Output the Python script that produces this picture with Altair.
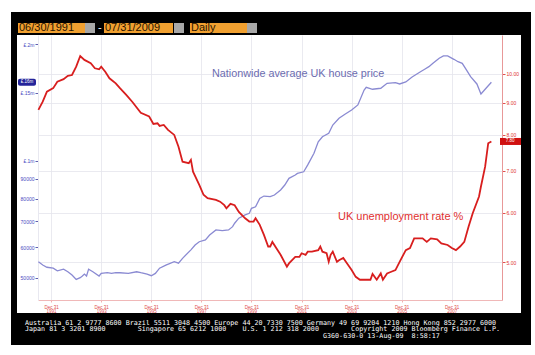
import altair as alt
import pandas as pd

# ---------------- data ----------------
hp_dates = ["1991-06-30", "1991-09-01", "1991-11-01", "1992-02-01", "1992-04-01", "1992-07-01",
            "1992-09-01", "1992-11-01", "1993-01-01", "1993-03-01", "1993-04-01", "1993-05-01",
            "1993-06-01", "1993-07-01", "1993-09-01", "1993-12-01", "1994-01-01", "1994-04-01",
            "1994-06-01", "1994-08-01", "1994-10-01", "1995-02-01", "1995-06-01", "1995-08-01",
            "1995-11-01", "1996-01-01", "1996-03-01", "1996-05-01", "1996-08-01", "1996-12-01",
            "1997-02-01", "1997-04-01", "1997-08-01", "1997-10-01", "1997-12-01", "1998-03-01",
            "1998-05-01", "1998-08-01", "1998-11-01", "1999-02-01", "1999-04-01", "1999-05-01",
            "1999-07-01", "1999-10-01", "1999-12-01", "2000-01-01", "2000-03-01", "2000-05-01",
            "2000-07-01", "2000-10-01", "2000-12-01", "2001-03-01", "2001-05-01", "2001-07-01",
            "2001-10-01", "2001-11-01", "2002-02-01", "2002-04-01", "2002-07-01", "2002-09-01",
            "2002-11-01", "2003-02-01", "2003-04-01", "2003-07-01", "2003-10-01", "2004-01-01",
            "2004-04-01", "2004-07-01", "2004-08-01", "2004-11-01", "2005-03-01", "2005-06-01",
            "2005-10-01", "2005-12-01", "2006-03-01", "2006-06-01", "2006-10-01", "2006-12-01",
            "2007-02-01", "2007-04-01", "2007-07-01", "2007-09-01", "2007-11-01", "2008-02-01",
            "2008-04-01", "2008-06-01", "2008-08-01", "2008-10-01", "2009-01-01", "2009-03-01",
            "2009-05-01", "2009-07-31"]
hp_values = [55000, 53900, 53200, 52900, 52100, 52600,
             51800, 50800, 49500, 50000, 50500, 51100,
             50500, 52600, 51800, 50500, 51300, 51500,
             51300, 51500, 51500, 51300, 51800, 51500,
             51100, 50600, 51300, 52900, 53900, 55000,
             54500, 56100, 59000, 60700, 61900, 62600,
             64400, 66400, 66100, 66400, 67700, 69100,
             71200, 72600, 73300, 75500, 76200, 80100,
             81200, 80900, 81700, 84200, 86700, 90200,
             92000, 92900, 93800, 97700, 104700, 112100,
             115500, 117900, 123800, 128900, 132200, 135400,
             139500, 152400, 154900, 153100, 154000, 158600,
             159200, 158000, 159900, 164700, 169900, 172400,
             175100, 178600, 184000, 186600, 186600, 182900,
             180300, 178600, 171700, 165000, 158000, 148900,
             153100, 159600]

ue_dates = ["1991-06-30", "1991-09-01", "1991-11-01", "1992-02-01", "1992-04-01", "1992-07-01",
            "1992-09-01", "1992-11-01", "1993-01-01", "1993-03-01", "1993-05-01", "1993-08-01",
            "1993-10-01", "1993-12-01", "1994-01-01", "1994-03-01", "1994-05-01", "1994-08-01",
            "1994-10-01", "1995-01-01", "1995-04-01", "1995-08-01", "1995-12-01", "1996-02-01",
            "1996-04-01", "1996-05-01", "1996-07-01", "1996-09-01", "1996-12-01", "1997-02-01",
            "1997-04-01", "1997-07-01", "1997-08-01", "1997-09-01", "1997-12-01", "1998-02-01",
            "1998-04-01", "1998-08-01", "1998-10-01", "1998-12-01", "1999-01-01", "1999-03-01",
            "1999-05-01", "1999-07-01", "1999-10-01", "1999-12-01", "2000-02-01", "2000-03-01",
            "2000-05-01", "2000-07-01", "2000-09-01", "2000-10-01", "2000-11-01", "2001-01-01",
            "2001-03-01", "2001-06-01", "2001-07-01", "2001-10-01", "2001-12-01", "2002-01-01",
            "2002-03-01", "2002-04-01", "2002-06-01", "2002-09-01", "2002-10-01", "2002-11-01",
            "2003-01-01", "2003-02-01", "2003-03-01", "2003-04-01", "2003-06-01", "2003-07-01",
            "2003-09-01", "2003-11-01", "2004-01-01", "2004-03-01", "2004-05-01", "2004-10-01",
            "2004-11-01", "2005-01-01", "2005-03-01", "2005-04-01", "2005-06-01", "2005-08-01",
            "2005-10-01", "2005-12-01", "2006-03-01", "2006-05-01", "2006-07-01", "2006-11-01",
            "2007-01-01", "2007-03-01", "2007-06-01", "2007-08-01", "2007-11-01", "2008-01-01",
            "2008-03-01", "2008-05-01", "2008-07-01", "2008-09-01", "2008-11-01", "2009-02-01",
            "2009-03-01", "2009-05-01", "2009-06-15", "2009-07-31"]
ue_values = [8.76, 9.03, 9.37, 9.49, 9.72, 9.81,
             9.93, 9.96, 10.27, 10.68, 10.53, 10.40,
             10.21, 10.17, 10.27, 10.08, 9.84, 9.66,
             9.49, 9.26, 9.02, 8.67, 8.55, 8.32,
             8.34, 8.26, 8.29, 8.14, 7.99, 7.65,
             7.24, 7.20, 7.29, 6.98, 6.65, 6.41,
             6.33, 6.29, 6.25, 6.17, 6.10, 6.20,
             6.17, 6.02, 5.88, 5.81, 5.81, 5.88,
             5.74, 5.53, 5.30, 5.30, 5.39, 5.26,
             5.14, 4.92, 4.98, 5.10, 5.10, 5.17,
             5.14, 5.20, 5.20, 5.23, 5.30, 5.20,
             5.17, 5.01, 5.14, 5.20, 5.01, 5.04,
             5.08, 4.97, 4.86, 4.74, 4.69, 4.69,
             4.79, 4.69, 4.80, 4.69, 4.80, 4.83,
             4.86, 5.01, 5.23, 5.27, 5.46, 5.46,
             5.39, 5.46, 5.44, 5.36, 5.33, 5.27,
             5.23, 5.30, 5.39, 5.70, 5.99, 6.37,
             6.61, 7.11, 7.75, 7.80]

x_tick_years = [1991, 1993, 1995, 1997, 1999, 2001, 2003, 2005, 2007]
left_ticks = [50000, 60000, 70000, 80000, 90000, 100000, 150000, 200000]
right_ticks = [5, 6, 7, 8, 9, 10]

header_start = "06/30/1991"
header_end = "07/31/2009"
header_freq = "Daily"
label_house = "Nationwide average UK house price"
label_unemp = "UK unemployment rate %"
footer_lines = [
    "Australia 61 2 9777 8600 Brazil 5511 3048 4500 Europe 44 20 7330 7500 Germany 49 69 9204 1210 Hong Kong 852 2977 6000",
    "Japan 81 3 3201 8900        Singapore 65 6212 1000    U.S. 1 212 318 2000        Copyright 2009 Bloomberg Finance L.P.",
]
footer_stamp = "G360-630-0 13-Aug-09  8:58:17"

# ---------------- tables ----------------
hp = pd.DataFrame({"date": hp_dates, "price": hp_values})
ue = pd.DataFrame({"date": ue_dates, "rate": ue_values})
hp_last = pd.DataFrame({"date": [hp_dates[-1]], "price": [hp_values[-1]],
                        "label": ["£." + str(round(hp_values[-1] / 10000)) + "m"]})
ue_last = pd.DataFrame({"date": [ue_dates[-1]], "rate": [ue_values[-1]],
                        "label": [f"{ue_values[-1]:.2f}"]})
one = pd.DataFrame({"k": [0]})

W, H = 464, 265
FONT = "Liberation Sans"

x_enc = alt.X(
    "date:T",
    title=None,
    scale=alt.Scale(type="utc", domain=[alt.DateTime(year=1991, month=6, date=24, utc=True),
                                        alt.DateTime(year=2010, month=1, date=2, utc=True)]),
    axis=alt.Axis(values=[alt.DateTime(year=y, month=12, date=31, utc=True) for y in x_tick_years],
                  labelExpr="['Dec 31', utcFormat(datum.value, '%Y')]",
                  labelFontSize=4.5, labelLineHeight=4.8, labelColor="#e04848", labelFont=FONT,
                  labelPadding=2, tickSize=2, tickColor="#f0b0b0", domainColor="#f0b8b8",
                  grid=True, gridColor="#e4e4ec", gridWidth=0.8),
)

y_hp = alt.Y(
    "price:Q", title=None,
    scale=alt.Scale(type="log", domain=[43800, 211300], nice=False),
    axis=alt.Axis(orient="left", values=left_ticks,
                  labelExpr="datum.value == 200000 ? '£.2m' : datum.value == 150000 ? '£.15m' : "
                            "datum.value == 100000 ? '£.1m' : format(datum.value, 'd')",
                  labelFontSize=5, labelColor="#4848c0", labelFont=FONT, labelPadding=1,
                  tickSize=3, tickColor="#6060b0", domainColor="#e8e8f0", grid=False),
)

y_ue = alt.Y(
    "rate:Q", title=None,
    scale=alt.Scale(type="log", domain=[4.353, 11.54], nice=False),
    axis=alt.Axis(orient="right", values=right_ticks, format=".2f",
                  labelFontSize=5, labelColor="#e03030", labelFont=FONT, labelPadding=1,
                  tickSize=3, tickColor="#e05050", domainColor="#e89898",
                  grid=True, gridColor="#e4e4ec", gridWidth=0.8),
)


def box(x1, x2, y1, y2, color):
    return alt.Chart(one).mark_rect(color=color).encode(
        x=alt.value(x1), x2=alt.value(x2), y=alt.value(y1), y2=alt.value(y2))


def label(text, x, y, size, color, font=FONT, align="left", baseline="middle", **kw):
    return alt.Chart(one).mark_text(text=text, fontSize=size, color=color, font=font,
                                    align=align, baseline=baseline, **kw).encode(
        x=alt.value(x), y=alt.value(y))


# black frame (outside the white plot panel)
frame = [
    box(-27, 493, -23, 0, "black"),
    box(-27, -21, 0, 278, "black"),
    box(483, 493, 0, 278, "black"),
    box(-27, 493, 278, 310, "black"),
]

# header boxes
header = [
    box(-20, 47, -12, -2, "#f0a030"),
    box(47, 57, -12, -2, "#a8a8a8"),
    box(66, 135, -12, -2, "#f0a030"),
    box(136, 146, -12, -2, "#a8a8a8"),
    box(152, 209, -12, -2, "#f0a030"),
    box(209, 219, -12, -2, "#a8a8a8"),
    label(header_start, -19, -7, 11, "#2a1400"),
    label("-", 60, -7, 11, "white"),
    label(header_end, 67, -7, 11, "#2a1400"),
    label(header_freq, 153, -7, 11, "#2a1400"),
]

# keep the column spacing of the monospaced footer (SVG would collapse runs of spaces)
footer_nbsp = [line.replace(" ", "\u00a0") for line in footer_lines]
footer = [
    alt.Chart(one).mark_text(
        text=footer_nbsp, fontSize=6.7, lineHeight=6.7, color="white",
        font="DejaVu Sans Mono", align="left", baseline="top").encode(
        x=alt.value(-13), y=alt.value(284.5)),
    alt.Chart(one).mark_text(
        text=footer_stamp.replace(" ", "\u00a0"), fontSize=6.7, color="white",
        font="DejaVu Sans Mono", align="left", baseline="top").encode(
        x=alt.value(285), y=alt.value(297.9)),
]

annotations = [
    label(label_house, 174, 39, 10.8, "#6c6cb0"),
    label(label_unemp, 300, 182, 11, "#e03030"),
]

blue_line = alt.Chart(hp).mark_line(color="#8a8ad2", strokeWidth=1.3).encode(x=x_enc, y=y_hp)
blue_tag = alt.Chart(hp_last).mark_rect(color="#24249a", cornerRadius=2, yOffset=-3.5,
                                        y2Offset=3.5).encode(
    x=alt.value(-20), x2=alt.value(-2), y=y_hp, y2="price:Q")
blue_tag_text = alt.Chart(hp_last).mark_text(color="white", fontSize=4.5, font=FONT).encode(
    x=alt.value(-11), y=y_hp, text="label:N")

red_line = alt.Chart(ue).mark_line(color="#d81e1e", strokeWidth=1.8).encode(x=x_enc, y=y_ue)
red_tag = alt.Chart(ue_last).mark_rect(color="#d01010", yOffset=-3.5, y2Offset=3.5).encode(
    x=alt.value(462), x2=alt.value(483), y=y_ue, y2="rate:Q")
red_tag_text = alt.Chart(ue_last).mark_text(color="white", fontSize=4.5, font=FONT).encode(
    x=alt.value(472), y=y_ue, text="label:N")

group_a = alt.layer(*frame, *header, *footer, blue_line, blue_tag, blue_tag_text, *annotations)
group_b = alt.layer(red_line, red_tag, red_tag_text)

chart = alt.layer(group_a, group_b).resolve_scale(y="independent").properties(
    width=W, height=H,
    autosize=alt.AutoSizeParams(type="none"),
    padding={"left": 38, "top": 35, "right": 33, "bottom": 55},
    background="white",
).configure_view(stroke=None)

chart.save("out.html", embed_options={"renderer": "svg", "actions": False})
